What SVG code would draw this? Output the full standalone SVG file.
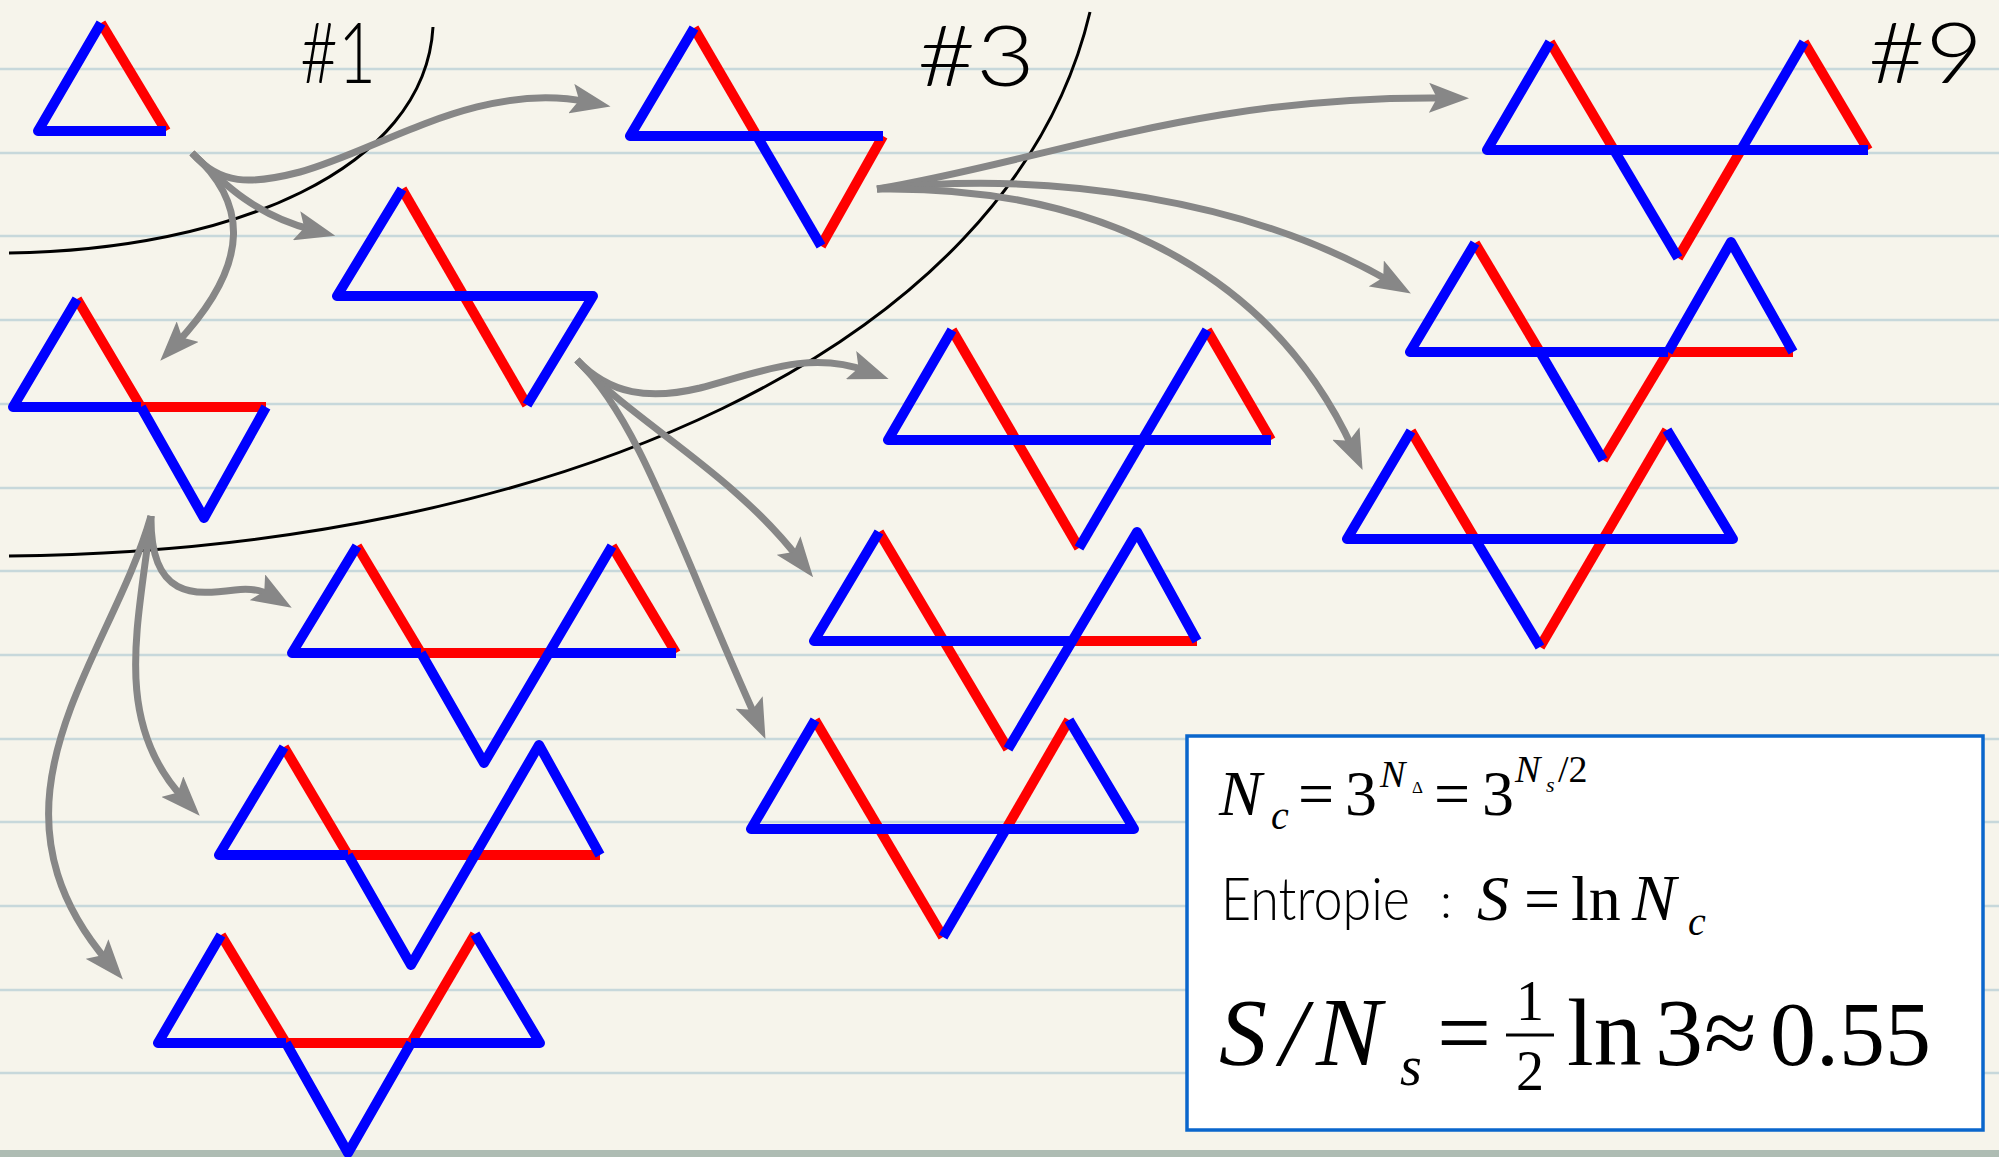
<svg xmlns="http://www.w3.org/2000/svg" width="1999" height="1157" viewBox="0 0 1999 1157">
<defs>
<style>
.paper{fill:#f6f4eb}
.rule{stroke:#c3d6da;stroke-width:2.5;opacity:.9}
.tri polyline,.tri line{fill:none;stroke-width:10;stroke-linejoin:round;stroke-linecap:butt}
.b{stroke:#0000ff}
.r{stroke:#ff0000}
.arr{fill:none;stroke:#878787;stroke-width:7;marker-end:url(#ah)}
.bound{fill:none;stroke:#000;stroke-width:3}
.hash{font-family:Lato,"Open Sans","Liberation Sans",sans-serif;font-weight:300;font-size:84px;fill:#000}
.m{font-family:"Liberation Serif","Times New Roman",serif;fill:#000}
.i{font-style:italic}
.sans{font-family:Lato,"Open Sans","Liberation Sans",sans-serif;font-weight:300;fill:#000}
</style>
<marker id="ah" markerUnits="userSpaceOnUse" viewBox="0 0 40 30" markerWidth="40" markerHeight="30" refX="17" refY="15" orient="auto">
<path d="M0,0 L40,15 L0,30 L8,15 z" fill="#878787"/>
</marker>
</defs>

<rect class="paper" x="0" y="0" width="1999" height="1157"/>
<g id="rules">
<line class="rule" x1="0" y1="69" x2="1999" y2="69"/>
<line class="rule" x1="0" y1="153" x2="1999" y2="153"/>
<line class="rule" x1="0" y1="236" x2="1999" y2="236"/>
<line class="rule" x1="0" y1="320" x2="1999" y2="320"/>
<line class="rule" x1="0" y1="404" x2="1999" y2="404"/>
<line class="rule" x1="0" y1="488" x2="1999" y2="488"/>
<line class="rule" x1="0" y1="571" x2="1999" y2="571"/>
<line class="rule" x1="0" y1="655" x2="1999" y2="655"/>
<line class="rule" x1="0" y1="739" x2="1999" y2="739"/>
<line class="rule" x1="0" y1="822" x2="1999" y2="822"/>
<line class="rule" x1="0" y1="906" x2="1999" y2="906"/>
<line class="rule" x1="0" y1="990" x2="1999" y2="990"/>
<line class="rule" x1="0" y1="1073" x2="1999" y2="1073"/>
</g>
<rect x="0" y="1150" width="1999" height="7" fill="#aebcb3"/>

<g id="boundaries">
<path class="bound" d="M9 253 C230 250 425 170 433 27"/>
<path class="bound" d="M9 556 C550 550 1010 350 1090 12"/>
</g>

<g id="labels">
<text class="hash" x="300" y="83" textLength="76" lengthAdjust="spacingAndGlyphs">#1</text>
<text class="hash" x="917" y="86" textLength="118" lengthAdjust="spacingAndGlyphs">#3</text>
<text class="hash" x="1868" y="83" textLength="115" lengthAdjust="spacingAndGlyphs">#9</text>
</g>

<g id="connectors">
<path class="arr" d="M192 153 C220 185 250 185 300 172 C380 150 480 80 588 102"/>
<path class="arr" d="M192 153 C225 185 255 215 313 230"/>
<path class="arr" d="M192 153 C245 200 255 260 176 344"/>
<path class="arr" d="M577 360 C610 395 650 400 700 388 C760 372 810 350 867 371"/>
<path class="arr" d="M577 360 C630 420 730 470 799 559"/>
<path class="arr" d="M577 360 C640 420 680 550 756 718"/>
<path class="arr" d="M151 516 C150 600 195 595 235 590 C250 588 262 590 272 596"/>
<path class="arr" d="M151 516 C140 620 110 720 184 799"/>
<path class="arr" d="M151 516 C110 660 -30 800 108 962"/>
<path class="arr" d="M877 189 C1050 160 1200 95 1446 98"/>
<path class="arr" d="M877 189 C1050 170 1250 200 1391 282"/>
<path class="arr" d="M877 189 C1120 185 1280 290 1353 449"/>
</g>

<g id="nodeA" class="tri">
<line class="r" x1="101" y1="23" x2="166" y2="131"/>
<polyline class="b" points="101,23 38,131 166,131"/>
</g>

<g id="nodeB" class="tri">
<line class="r" x1="402" y1="189" x2="527" y2="405"/>
<polyline class="b" points="402,189 337,296 593,296 527,405"/>
</g>

<g id="nodeC" class="tri">
<polyline class="r" points="77,299 141,407 266,407"/>
<polyline class="b" points="77,299 13,407 141,407"/>
<polyline class="b" points="141,407 204,518 266,407"/>
</g>

<g id="nodeD" class="tri">
<line class="r" x1="694" y1="28" x2="757" y2="136"/>
<line class="r" x1="883" y1="136" x2="821" y2="246"/>
<polyline class="b" points="694,28 630,136 883,136"/>
<line class="b" x1="757" y1="136" x2="821" y2="246"/>
</g>

<g id="nodeE" class="tri">
<line class="r" x1="952" y1="330" x2="1079" y2="548"/>
<line class="r" x1="1207" y1="330" x2="1271" y2="440"/>
<polyline class="b" points="952,330 888,440 1271,440"/>
<line class="b" x1="1079" y1="548" x2="1207" y2="330"/>
</g>

<g id="nodeF" class="tri">
<line class="r" x1="879" y1="532" x2="1008" y2="749"/>
<line class="r" x1="1073" y1="641" x2="1197" y2="641"/>
<polyline class="b" points="879,532 814,641 1073,641"/>
<polyline class="b" points="1008,749 1137,532 1197,641"/>
</g>

<g id="nodeG" class="tri">
<line class="r" x1="815" y1="720" x2="943" y2="937"/>
<line class="r" x1="1006" y1="829" x2="1069" y2="720"/>
<polyline class="b" points="815,720 751,829 1134,829 1069,720"/>
<line class="b" x1="943" y1="937" x2="1006" y2="829"/>
</g>

<g id="nodeH" class="tri">
<line class="r" x1="357" y1="546" x2="421" y2="653"/>
<line class="r" x1="421" y1="653" x2="546" y2="653"/>
<line class="r" x1="612" y1="546" x2="676" y2="653"/>
<polyline class="b" points="357,546 292,653 421,653"/>
<polyline class="b" points="421,653 484,763 612,546"/>
<line class="b" x1="546" y1="653" x2="676" y2="653"/>
</g>

<g id="nodeI" class="tri">
<line class="r" x1="284" y1="747" x2="348" y2="855"/>
<line class="r" x1="348" y1="855" x2="600" y2="855"/>
<polyline class="b" points="284,747 219,855 348,855"/>
<polyline class="b" points="348,855 411,965 539,745 600,855"/>
</g>

<g id="nodeJ" class="tri">
<line class="r" x1="221" y1="935" x2="286" y2="1043"/>
<line class="r" x1="286" y1="1043" x2="411" y2="1043"/>
<line class="r" x1="411" y1="1043" x2="475" y2="934"/>
<polyline class="b" points="221,935 158,1043 286,1043"/>
<polyline class="b" points="286,1043 348,1153 411,1043"/>
<polyline class="b" points="411,1043 540,1043 475,934"/>
</g>

<g id="nodeK" class="tri">
<line class="r" x1="1550" y1="42" x2="1614" y2="150"/>
<line class="r" x1="1678" y1="258" x2="1741" y2="150"/>
<line class="r" x1="1804" y1="42" x2="1868" y2="150"/>
<polyline class="b" points="1550,42 1487,150 1868,150"/>
<line class="b" x1="1614" y1="150" x2="1678" y2="258"/>
<line class="b" x1="1741" y1="150" x2="1804" y2="42"/>
</g>

<g id="nodeL" class="tri">
<line class="r" x1="1475" y1="243" x2="1540" y2="352"/>
<line class="r" x1="1603" y1="460" x2="1668" y2="352"/>
<line class="r" x1="1668" y1="352" x2="1793" y2="352"/>
<polyline class="b" points="1475,243 1410,352 1668,352"/>
<line class="b" x1="1540" y1="352" x2="1603" y2="460"/>
<polyline class="b" points="1668,352 1731,242 1793,352"/>
</g>

<g id="nodeM" class="tri">
<line class="r" x1="1411" y1="431" x2="1475" y2="539"/>
<line class="r" x1="1540" y1="647" x2="1667" y2="430"/>
<polyline class="b" points="1411,431 1347,539 1733,539 1667,430"/>
<line class="b" x1="1475" y1="539" x2="1540" y2="647"/>
</g>

<g id="formulaBox">
<rect x="1187" y="736" width="796" height="394" fill="#ffffff" stroke="#0a66cc" stroke-width="3.5"/>
<text class="m i" x="1219" y="815" font-size="64">N</text>
<text class="m i" x="1271" y="829" font-size="40">c</text>
<text class="m" x="1298" y="815" font-size="64">=</text>
<text class="m" x="1345" y="815" font-size="64">3</text>
<text class="m i" x="1380" y="787" font-size="38">N</text>
<text class="m" x="1412" y="793" font-size="17">Δ</text>
<text class="m" x="1434" y="815" font-size="64">=</text>
<text class="m" x="1482" y="815" font-size="64">3</text>
<text class="m i" x="1515" y="782" font-size="38">N</text>
<text class="m i" x="1546" y="792" font-size="22">s</text>
<text class="m" x="1558" y="782" font-size="38">/2</text>

<text class="sans" x="1221" y="920" font-size="60" textLength="189" lengthAdjust="spacingAndGlyphs">Entropie</text>
<text class="sans" x="1440" y="918" font-size="50">:</text>
<text class="m i" x="1477" y="920" font-size="64">S</text>
<text class="m" x="1524" y="920" font-size="64">=</text>
<text class="m" x="1571" y="920" font-size="64">ln</text>
<text class="m i" x="1632" y="920" font-size="66">N</text>
<text class="m i" x="1688" y="935" font-size="40">c</text>

<text class="m i" x="1219" y="1065" font-size="96">S</text>
<text class="m i" x="1280" y="1065" font-size="96">/</text>
<text class="m i" x="1316" y="1065" font-size="98">N</text>
<text class="m i" x="1400" y="1085" font-size="56">s</text>
<text class="m" x="1437" y="1065" font-size="96">=</text>
<text class="m" x="1516" y="1020" font-size="56">1</text>
<line x1="1506" y1="1035" x2="1554" y2="1035" stroke="#000" stroke-width="3"/>
<text class="m" x="1516" y="1090" font-size="56">2</text>
<text class="m" x="1567" y="1065" font-size="96">ln</text>
<text class="m" x="1655" y="1065" font-size="96">3</text>
<text class="m" x="1704" y="1065" font-size="96">≈</text>
<text class="m" x="1770" y="1065" font-size="92">0.55</text>
</g>
</svg>
